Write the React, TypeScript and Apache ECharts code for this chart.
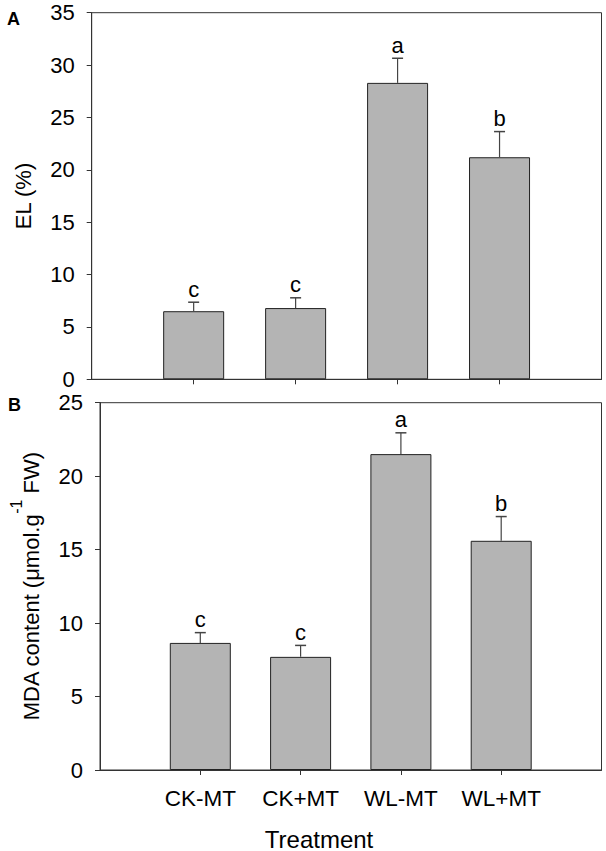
import React, { useEffect, useRef } from "react";
import * as echarts from "echarts";

const categories = ["", "CK-MT", "CK+MT", "WL-MT", "WL+MT", ""];
const elValues = [6.5, 6.8, 28.3, 21.2];
const elErrors = [0.86, 0.98, 2.35, 2.45];
const elLetters = ["c", "c", "a", "b"];
const mdaValues = [8.65, 7.7, 21.5, 15.6];
const mdaErrors = [0.7, 0.78, 1.45, 1.65];
const mdaLetters = ["c", "c", "a", "b"];
const elTicks = { min: 0, max: 35, interval: 5 };
const mdaTicks = { min: 0, max: 25, interval: 5 };
const xTitle = "Treatment";

const FONT = "'Liberation Sans', Arial, sans-serif";
const BAR_COLOR = "#b4b4b4";
const LINE = "#333";

function barData(values: number[]) {
  return values.map((v, i) => [i + 1, v]);
}
function errData(values: number[], errs: number[]) {
  return values.map((v, i) => [i + 1, v, errs[i]]);
}

function makeErr(letters: string[]) {
  return (params: any, api: any) => {
    const x = api.value(0);
    const v = api.value(1);
    const e = api.value(2);
    const top = api.coord([x, v]);
    const cap = api.coord([x, v + e]);
    return {
      type: "group",
      children: [
        { type: "line", shape: { x1: top[0], y1: top[1], x2: cap[0], y2: cap[1] }, style: { stroke: "#444", lineWidth: 1.2 } },
        { type: "line", shape: { x1: cap[0] - 5.5, y1: cap[1], x2: cap[0] + 5.5, y2: cap[1] }, style: { stroke: "#444", lineWidth: 1.5 } },
        {
          type: "text",
          x: cap[0],
          y: cap[1] - 13,
          style: { text: letters[params.dataIndex], fontSize: 22, fontFamily: FONT, fill: "#000", align: "center", verticalAlign: "middle" },
        },
      ],
    };
  };
}

export default function App() {
  const ref = useRef<HTMLDivElement>(null);
  useEffect(() => {
    if (!ref.current) return;
    const chart = echarts.init(ref.current, null, { renderer: "svg" });
    const tickInterval = (i: number) => i >= 1 && i <= 4;
    const xBase = (gi: number, showLabels: boolean) => ({
      type: "category",
      gridIndex: gi,
      data: categories,
      boundaryGap: false,
      axisLine: { show: true, lineStyle: { color: LINE, width: 1 } },
      axisTick: { show: true, inside: false, length: 5, interval: tickInterval, lineStyle: { color: LINE } },
      axisLabel: { show: showLabels, interval: tickInterval, margin: 17, fontSize: 22.5, fontFamily: FONT, color: "#000" },
      splitLine: { show: false },
    });
    const yBase = (gi: number, t: any) => ({
      type: "value",
      gridIndex: gi,
      min: t.min,
      max: t.max,
      interval: t.interval,
      axisLine: { show: true, lineStyle: { color: LINE, width: 1 } },
      axisTick: { show: true, inside: false, length: 5, lineStyle: { color: LINE } },
      axisLabel: { margin: 17, fontSize: 22, fontFamily: FONT, color: "#000" },
      splitLine: { show: false },
    });
    chart.setOption({
      animation: false,
      backgroundColor: "#fff",
      grid: [
        { left: 91.7, right: 4.5, top: 12.7, height: 366.6, show: true, borderColor: LINE, borderWidth: 1, backgroundColor: "transparent" },
        { left: 91.7, right: 4.5, top: 402.7, height: 367.3, show: true, borderColor: LINE, borderWidth: 1, backgroundColor: "transparent" },
      ],
      xAxis: [xBase(0, false), xBase(1, true)],
      yAxis: [
        {
          ...yBase(0, elTicks),
          name: "EL (%)",
          nameLocation: "middle",
          nameGap: 57,
          nameTextStyle: { fontSize: 22, fontFamily: FONT, color: "#000" },
        },
        {
          ...yBase(1, mdaTicks),
          name: "{t|MDA content (μmol.g}{s|-1}{t| FW)}",
          nameLocation: "middle",
          nameGap: 58,
          nameTextStyle: {
            fontSize: 22,
            fontFamily: FONT,
            color: "#000",
            rich: {
              t: { fontSize: 22, fontFamily: FONT, color: "#000", lineHeight: 34, verticalAlign: "bottom" },
              s: { fontSize: 16, fontFamily: FONT, color: "#000", lineHeight: 16, verticalAlign: "top" },
            },
          },
        },
      ],
      graphic: [
        { type: "text", left: 7, top: 10, style: { text: "A", fontSize: 18, fontWeight: "bold", fontFamily: FONT, fill: "#000" } },
        { type: "text", left: 8, top: 396, style: { text: "B", fontSize: 18, fontWeight: "bold", fontFamily: FONT, fill: "#000" } },
        {
          type: "text",
          x: 319,
          y: 839,
          style: { text: xTitle, fontSize: 24, fontFamily: FONT, fill: "#000", align: "center", verticalAlign: "middle" },
        },
      ],
      series: [
        {
          type: "bar",
          xAxisIndex: 0,
          yAxisIndex: 0,
          data: barData(elValues),
          barWidth: 61,
          itemStyle: { color: BAR_COLOR, borderColor: "#222", borderWidth: 1 },
        },
        {
          type: "custom",
          xAxisIndex: 0,
          yAxisIndex: 0,
          data: errData(elValues, elErrors),
          renderItem: makeErr(elLetters),
          z: 5,
        },
        {
          type: "bar",
          xAxisIndex: 1,
          yAxisIndex: 1,
          data: barData(mdaValues),
          barWidth: 61,
          itemStyle: { color: BAR_COLOR, borderColor: "#222", borderWidth: 1 },
        },
        {
          type: "custom",
          xAxisIndex: 1,
          yAxisIndex: 1,
          data: errData(mdaValues, mdaErrors),
          renderItem: makeErr(mdaLetters),
          z: 5,
        },
      ],
    });
    return () => chart.dispose();
  }, []);
  return <div ref={ref} style={{ position: "fixed", left: 0, top: 0, width: 606, height: 851, background: "#fff" }} />;
}
